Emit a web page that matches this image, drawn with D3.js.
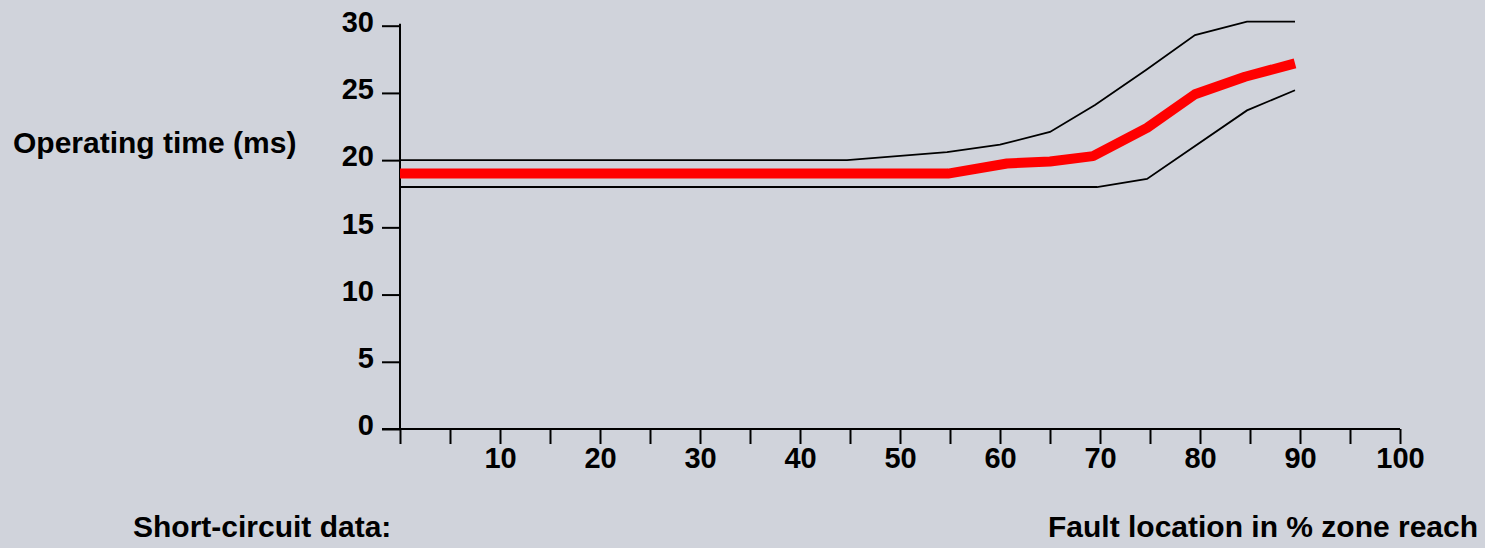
<!DOCTYPE html>
<html>
<head>
<meta charset="utf-8">
<script src="https://cdn.jsdelivr.net/npm/d3@7"></script>
<style>
  html, body { margin: 0; padding: 0; background: #d0d3db; }
  svg { display: block; }
  text { font-family: "Liberation Sans", Arial, sans-serif; font-weight: bold; fill: #000; }
</style>
</head>
<body>
<svg id="chart" width="1485" height="548"></svg>
<script>
// Operating-time band: upper limit, typical and lower limit vs. fault location
const upperReach = [0, 44.7, 54.7, 60, 65, 69.5, 74.6, 79.5, 84.7, 89.5];
const upperTime  = [20, 20, 20.6, 21.15, 22.1, 24.1, 26.7, 29.3, 30.3, 30.3];

const typicalReach = [0, 54.8, 60.7, 65, 69.3, 74.7, 79.5, 84.5, 89.5];
const typicalTime  = [19, 19, 19.75, 19.9, 20.3, 22.4, 24.9, 26.2, 27.2];

const lowerReach = [0, 69.7, 74.7, 84.7, 89.5];
const lowerTime  = [18, 18, 18.6, 23.7, 25.2];

const xTicks = [0, 5, 10, 15, 20, 25, 30, 35, 40, 45, 50, 55, 60, 65, 70, 75, 80, 85, 90, 95, 100];
const xTickLabels = [10, 20, 30, 40, 50, 60, 70, 80, 90, 100];
const yTicks = [0, 5, 10, 15, 20, 25, 30];

const yTitle = "Operating time (ms)";
const xTitle = "Fault location in % zone reach";
const noteTitle = "Short-circuit data:";

const svg = d3.select("#chart");

const x = d3.scaleLinear().domain([0, 100]).range([400, 1400]);
const y = d3.scaleLinear().domain([0, 30]).range([429, 25.7]);

const fontSize = 29;

// Y axis
const yAxis = d3.axisLeft(y).tickValues(yTicks).tickSize(18).tickSizeOuter(0).tickPadding(8);
const gy = svg.append("g").attr("transform", `translate(${x(0)},0)`).call(yAxis);
gy.select(".domain").remove();
gy.selectAll(".tick line").attr("stroke", "#000").attr("stroke-width", 2);
gy.selectAll(".tick text")
  .attr("font-size", fontSize)
  .attr("font-family", "Liberation Sans, Arial, sans-serif")
  .attr("font-weight", "bold")
  .attr("fill", "#000")
  .attr("dy", "0.2em");

// X axis
const xAxis = d3.axisBottom(x).tickValues(xTicks).tickSize(15).tickSizeOuter(0)
  .tickFormat(d => xTickLabels.includes(d) ? d : "");
const gx = svg.append("g").attr("transform", `translate(0,${y(0)})`).call(xAxis);
gx.select(".domain").remove();
gx.selectAll(".tick line").attr("stroke", "#000").attr("stroke-width", 2);
gx.selectAll(".tick text")
  .attr("font-size", fontSize)
  .attr("font-family", "Liberation Sans, Arial, sans-serif")
  .attr("font-weight", "bold")
  .attr("fill", "#000")
  .attr("y", 39)
  .attr("dy", 0);

// Axis lines
svg.append("line")
  .attr("x1", x(0)).attr("x2", x(0))
  .attr("y1", y(30) - 2).attr("y2", y(0))
  .attr("stroke", "#000").attr("stroke-width", 2);
svg.append("line")
  .attr("x1", x(0) - 18).attr("x2", x(100))
  .attr("y1", y(0)).attr("y2", y(0))
  .attr("stroke", "#000").attr("stroke-width", 2);

// Curves
const line = d3.line().x(d => x(d[0])).y(d => y(d[1]));
const zip = (a, b) => a.map((v, i) => [v, b[i]]);

svg.append("path")
  .datum(zip(upperReach, upperTime))
  .attr("d", line)
  .attr("fill", "none").attr("stroke", "#000").attr("stroke-width", 1.8);

svg.append("path")
  .datum(zip(lowerReach, lowerTime))
  .attr("d", line)
  .attr("fill", "none").attr("stroke", "#000").attr("stroke-width", 1.8);

svg.append("path")
  .datum(zip(typicalReach, typicalTime))
  .attr("d", line)
  .attr("fill", "none").attr("stroke", "#ff0000").attr("stroke-width", 10)
  .attr("stroke-linejoin", "round");

// Titles
svg.append("text").attr("x", 13).attr("y", 153).attr("font-size", 30).text(yTitle);
svg.append("text").attr("x", 133).attr("y", 537).attr("font-size", 30).text(noteTitle);
svg.append("text").attr("x", 1048).attr("y", 537).attr("font-size", 30).text(xTitle);
</script>
</body>
</html>
